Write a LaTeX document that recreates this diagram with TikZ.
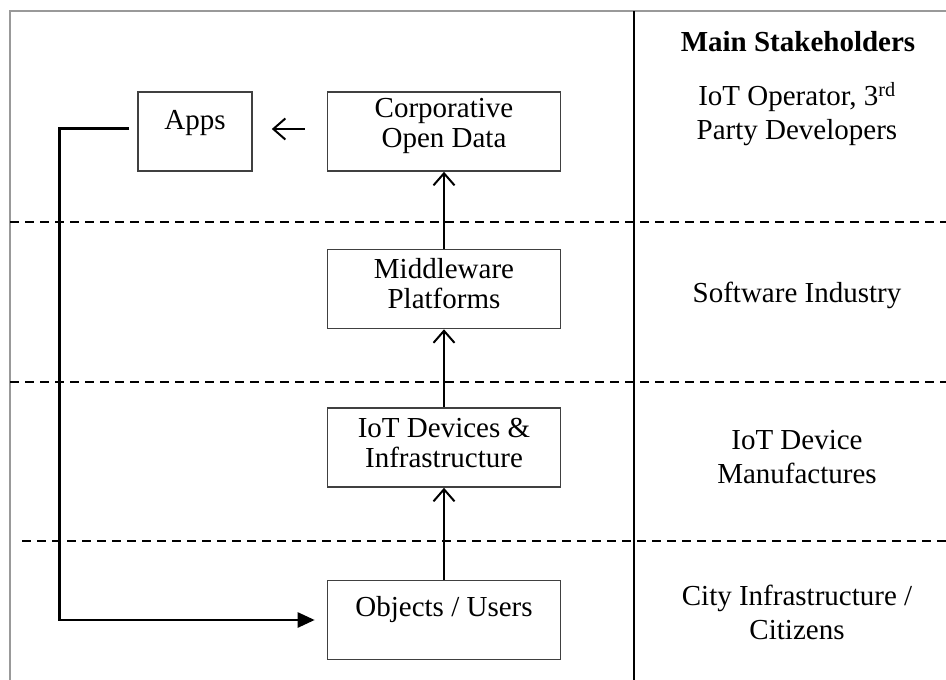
\documentclass[tikz,border=0pt]{standalone}
\usepackage{fontspec}
\setmainfont{Liberation Serif}
\usetikzlibrary{arrows.meta}

\tikzset{
  layerbox/.style={draw=black!75, line width=1.6pt, minimum width=233pt, minimum height=79pt, inner sep=0pt},
  appbox/.style={draw=black!75, line width=1.6pt, minimum width=114pt, minimum height=79pt, inner sep=0pt},
  txt/.style={align=center, inner sep=0pt, font=\fontsize{29}{30}\selectfont},
  sidetxt/.style={align=center, inner sep=0pt, font=\fontsize{29}{34}\selectfont},
  flow/.style={line width=2pt, -{Straight Barb[length=12pt,width=21pt,line width=2pt]}},
  loop/.style={line width=2.6pt, -{Triangle[length=17pt,width=15pt]}},
  sep/.style={line width=2pt, dash pattern=on 9pt off 6pt},
  frame/.style={draw=black!40, line width=2.2pt}
}

\begin{document}
\begin{tikzpicture}[x=1pt,y=-1pt]
  \useasboundingbox (0,0) rectangle (946,680);

  % outer frame and stakeholder column separator
  \draw[frame] (10,690) -- (10,11) -- (956,11);
  \draw[line width=2.2pt] (634,11) -- (634,690);

  % layer separators
  \draw[sep] (10,222) -- (946,222);
  \draw[sep] (10,382) -- (946,382);
  \draw[sep] (22,541) -- (946,541);

  % boxes
  \node[appbox]   (apps) at (195,131.5) {};
  \node[layerbox] (open) at (444,131.5) {};
  \node[layerbox] (mid)  at (444,289)   {};
  \node[layerbox] (dev)  at (444,447.5) {};
  \node[layerbox] (obj)  at (444,620)   {};

  % box captions
  \node[txt] (appsT) at (195,123) {Apps};
  \node[txt] (openT) at (444,126) {Corporative\\Open Data};
  \node[txt] (midT)  at (444,284) {Middleware\\Platforms};
  \node[txt] (devT)  at (444,443) {IoT Devices \&\\Infrastructure};
  \node[txt] (objT)  at (444,610) {Objects / Users};

  % stakeholders column
  \node[sidetxt, font=\fontsize{29}{34}\selectfont\bfseries] (head) at (798,42) {Main Stakeholders};
  \node[sidetxt] (s1) at (797,114) {IoT Operator, 3\textsuperscript{rd}\\Party Developers};
  \node[sidetxt] (s2) at (797,295) {Software Industry};
  \node[sidetxt] (s3) at (797,457) {IoT Device\\Manufactures};
  \node[sidetxt] (s4) at (797,612) {City Infrastructure /\\Citizens};

  % upward data flow
  \draw[flow] (obj.north) -- (dev.south);
  \draw[flow] (dev.north) -- (mid.south);
  \draw[flow] (mid.north) -- (open.south);

  % open data feeding the apps
  \coordinate (feedA) at ([xshift=-22pt,yshift=2.5pt]open.west);
  \coordinate (feedB) at ([xshift=19pt,yshift=2.5pt]apps.east);
  \draw[flow, line width=1.8pt] (feedA) -- (feedB);

  % apps acting back on objects and users
  \coordinate (loopS) at ([xshift=-8pt,yshift=3pt]apps.west);
  \coordinate (loopC) at ([xshift=-70pt]loopS);
  \coordinate (loopE) at ([xshift=-12pt]obj.west);
  \draw[loop] (loopS) -- (loopC) |- (loopE);
\end{tikzpicture}
\end{document}
